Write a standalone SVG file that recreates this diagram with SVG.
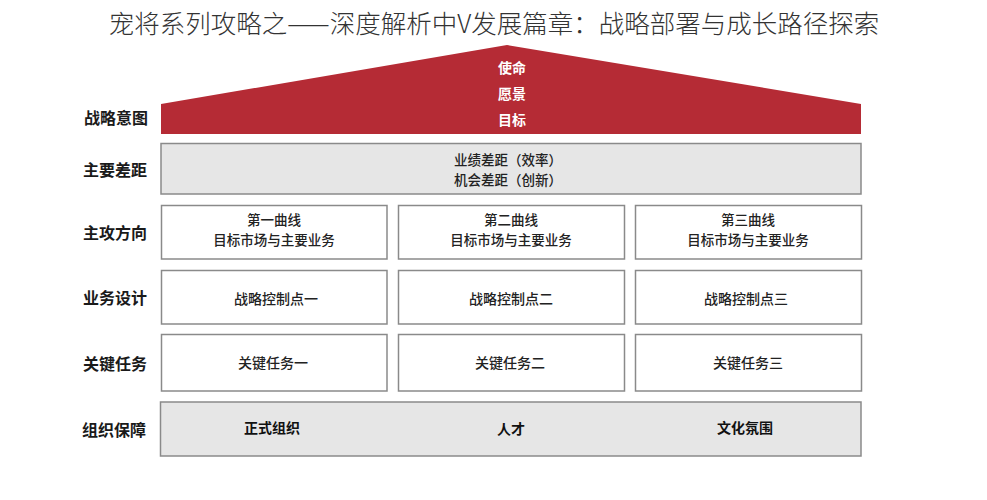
<svg xmlns="http://www.w3.org/2000/svg" width="987" height="500" viewBox="0 0 987 500">
<style>
text{font-family:"Noto Sans CJK SC","Noto Sans",sans-serif;text-anchor:middle;dominant-baseline:central}
.title{font-size:25.5px;font-weight:300;fill:#333}
.lab{font-size:16px;font-weight:700;fill:#1a1a1a;text-anchor:start}
.roof{font-size:14px;font-weight:700;fill:#fff}
.t{font-size:14px;font-weight:500;fill:#222}
.t2{font-size:13.5px;font-weight:500;fill:#222}
.b{font-size:14px;font-weight:700;fill:#111}
.box{fill:#fff;stroke:#8a8a8a;stroke-width:1.5}
.gbox{fill:#e6e6e6;stroke:#8a8a8a;stroke-width:1.5}
</style>
<rect width="987" height="500" fill="#fff"/>
<text class="title" x="494" y="21">宠将系列攻略之——深度解析中V发展篇章：战略部署与成长路径探索</text>
<g id="labels">
<text class="lab" x="84" y="117">战略意图</text>
<text class="lab" x="83" y="169">主要差距</text>
<text class="lab" x="83" y="232">主攻方向</text>
<text class="lab" x="83" y="297">业务设计</text>
<text class="lab" x="83" y="363">关键任务</text>
<text class="lab" x="82" y="429">组织保障</text>
</g>
<g id="roof">
<polygon points="161,104 507,45 861,104 861,134 161,134" fill="#b52b35"/>
<text class="roof" x="512" y="67">使命</text>
<text class="roof" x="512" y="93">愿景</text>
<text class="roof" x="512" y="119">目标</text>
</g>
<g id="gap">
<rect class="gbox" x="161" y="143.5" width="700" height="50.5"/>
<text class="t2" x="508" y="159">业绩差距（效率）</text>
<text class="t2" x="508" y="178.7">机会差距（创新）</text>
</g>
<g id="dir1"><rect class="box" x="161.5" y="205.5" width="225.5" height="53.5"/><text class="t2" x="274" y="219">第一曲线</text><text class="t2" x="274" y="238.7">目标市场与主要业务</text></g>
<g id="dir2"><rect class="box" x="398.5" y="205.5" width="226" height="53.5"/><text class="t2" x="511" y="219">第二曲线</text><text class="t2" x="511" y="238.7">目标市场与主要业务</text></g>
<g id="dir3"><rect class="box" x="635.5" y="205.5" width="226" height="53.5"/><text class="t2" x="748" y="219">第三曲线</text><text class="t2" x="748" y="238.7">目标市场与主要业务</text></g>
<g id="ctl1"><rect class="box" x="161.5" y="270.5" width="225.5" height="53.5"/><text class="t" x="276" y="298">战略控制点一</text></g>
<g id="ctl2"><rect class="box" x="398.5" y="270.5" width="226" height="53.5"/><text class="t" x="511" y="298">战略控制点二</text></g>
<g id="ctl3"><rect class="box" x="635.5" y="270.5" width="226" height="53.5"/><text class="t" x="746" y="298">战略控制点三</text></g>
<g id="task1"><rect class="box" x="161.5" y="334.5" width="225.5" height="56.5"/><text class="t" x="273" y="362">关键任务一</text></g>
<g id="task2"><rect class="box" x="398.5" y="334.5" width="226" height="56.5"/><text class="t" x="510" y="362">关键任务二</text></g>
<g id="task3"><rect class="box" x="635.5" y="334.5" width="226" height="56.5"/><text class="t" x="748" y="362">关键任务三</text></g>
<g id="org">
<rect class="gbox" x="160.5" y="402" width="700.5" height="54"/>
<text class="b" x="272" y="427">正式组织</text>
<text class="b" x="511" y="428">人才</text>
<text class="b" x="745" y="427">文化氛围</text>
</g>
<g id="connectors"/>
</svg>
